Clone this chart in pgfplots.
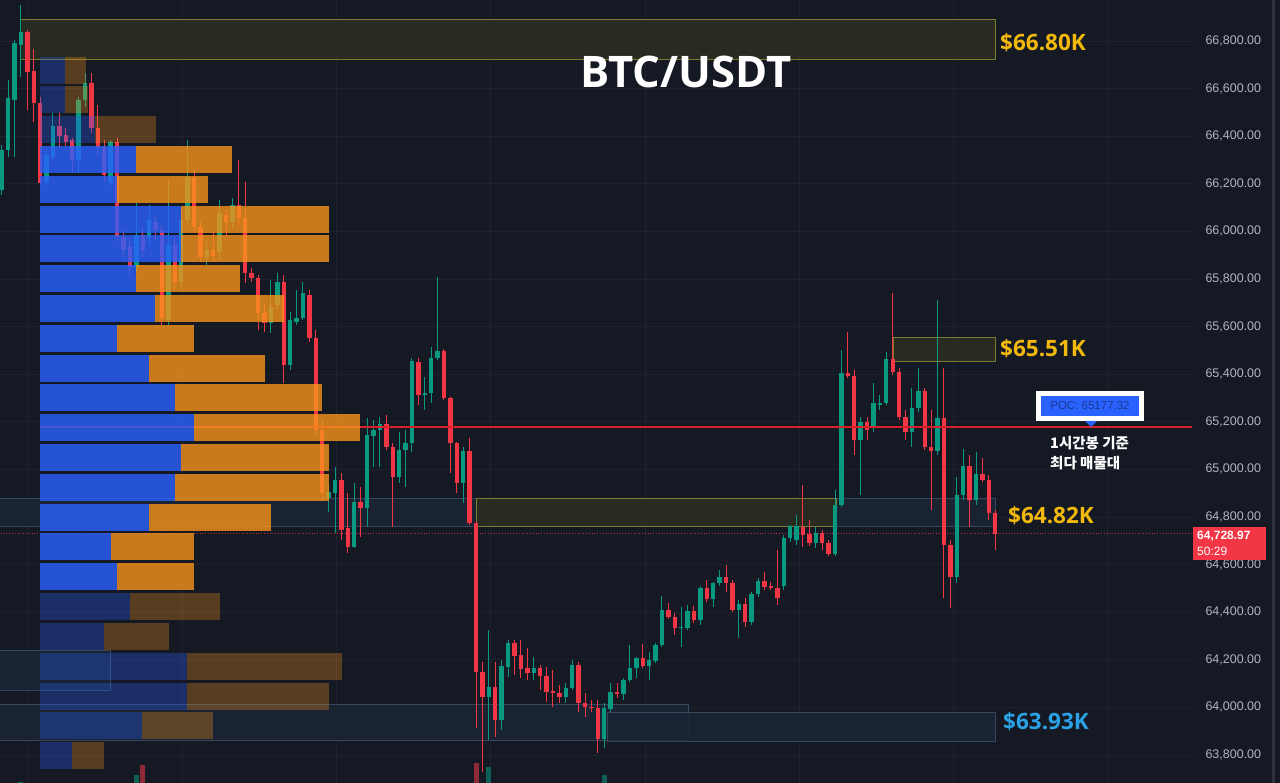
\documentclass[border=0pt]{standalone}
\usepackage{pgfplots}
\usepackage{pgfplotstable}
\pgfplotsset{compat=1.18}
\usepackage{fontspec}
\setmainfont{Open Sans}
\newfontfamily\tickfont{Liberation Sans}
\newfontfamily\krfont{Noto Sans CJK KR}
\definecolor{bgc}{HTML}{151924}
\definecolor{gridc}{HTML}{1E222D}
\definecolor{cgreen}{HTML}{089981}
\definecolor{cred}{HTML}{F23645}
\definecolor{pblue}{HTML}{2962FF}
\definecolor{porange}{HTML}{F7931A}
\definecolor{gold}{HTML}{F2B90C}
\definecolor{lblue}{HTML}{2BA1E6}
\definecolor{tickc}{HTML}{B2B5BE}
\definecolor{zyfill}{HTML}{2B2D22}
\definecolor{zyline}{HTML}{7E7A2E}
\definecolor{zbfill}{HTML}{1C2535}
\definecolor{zbline}{HTML}{36465F}
\definecolor{pocred}{HTML}{D8202A}
\definecolor{poctext}{HTML}{1C3A8C}
\definecolor{stripc}{HTML}{2E323C}

\pgfplotstableread{
i o h l c
0 66174 66363 66153 66342
1 66342 66636 66313 66560
2 66552 66804 66313 66791
3 66783 66951 66649 66838
7 66208 66342 66195 66321
8 66313 66497 66300 66443
12 66300 66565 66245 66552
13 66552 66665 66523 66623
17 66208 66384 66191 66376
21 65851 66119 65825 65985
23 65972 66111 65943 66048
26 65628 66216 65607 65943
28 65788 66090 65754 66048
29 66048 66384 66027 66229
32 65893 65964 65859 65922
34 65914 66132 65880 66077
36 66040 66140 66014 66111
42 65615 65796 65573 65683
43 65691 65825 65670 65788
45 65439 65662 65418 65628
46 65620 65754 65607 65636
47 65636 65788 65628 65741
51 64880 64935 64822 64906
52 64901 65011 64733 64956
55 64675 64943 64670 64864
57 64838 65216 64759 65145
58 65141 65208 65011 65166
59 65166 65221 65011 65191
62 64969 65158 64943 65082
63 65082 65166 64927 65111
64 65111 65468 65074 65456
66 65313 65389 65250 65321
67 65321 65515 65279 65468
68 65468 65809 65460 65498
72 64943 65095 64859 65078
76 64045 64326 63864 64087
78 63948 64200 63906 64175
79 64171 64284 64129 64271
83 64145 64213 64116 64166
88 64045 64103 64019 64082
89 64082 64200 64074 64179
94 63868 64019 63830 63998
95 63994 64103 63982 64066
97 64057 64124 64032 64116
98 64116 64263 64108 64166
99 64166 64213 64124 64208
101 64175 64234 64116 64200
102 64196 64271 64187 64263
103 64263 64469 64255 64410
106 64334 64423 64255 64339
107 64334 64431 64326 64406
109 64368 64511 64347 64502
111 64456 64528 64423 64523
112 64523 64578 64511 64549
115 64410 64452 64292 64435
117 64360 64486 64347 64477
118 64477 64544 64465 64532
122 64511 64725 64494 64712
123 64712 64767 64696 64763
124 64704 64809 64683 64763
127 64691 64759 64670 64733
130 64645 64914 64637 64851
131 64851 65502 64843 65405
134 65124 65221 64893 65200
136 65174 65363 65158 65279
137 65275 65313 65250 65279
138 65279 65494 65271 65464
142 65158 65342 65095 65258
143 65258 65426 65242 65330
146 65078 65712 65061 65216
149 64549 64969 64523 64893
150 64893 65086 64872 65015
152 64872 65074 64851 64981
}\upcandles

\pgfplotstableread{
i o h l c
4 66838 66846 66510 66670
5 66674 66766 66460 66539
6 66539 66565 66195 66203
9 66443 66497 66355 66401
10 66405 66434 66359 66376
11 66384 66392 66245 66300
14 66623 66665 66413 66434
15 66434 66531 66313 66355
16 66355 66384 66208 66237
18 66376 66392 65956 65977
19 65977 66006 65888 65922
20 65935 65977 65817 65851
22 65985 66019 65893 65922
24 66040 66069 65964 66006
25 66006 66027 65607 65636
27 65943 65985 65754 65788
30 66229 66258 65998 66019
31 66019 66040 65872 65893
33 65922 65998 65872 65897
35 66069 66090 65985 66040
37 66111 66300 66027 66056
38 66056 66208 65783 65825
39 65825 65846 65788 65804
40 65804 65817 65586 65657
41 65657 65699 65578 65615
44 65788 65817 65363 65439
48 65733 65754 65536 65552
49 65552 65586 65145 65166
50 65166 65208 64872 64901
53 64956 64985 64704 64746
54 64754 64901 64649 64675
56 64864 64927 64717 64838
60 65191 65229 65082 65095
61 65095 65111 64759 64969
65 65452 65468 65271 65313
69 65498 65506 65292 65300
70 65300 65305 64985 65111
71 65111 65116 64901 64943
73 65078 65132 64767 64775
74 64775 64784 63914 64150
75 64150 64192 63730 64045
77 64087 64192 63877 63948
80 64271 64284 64137 64217
81 64221 64284 64124 64162
82 64166 64250 64116 64145
84 64166 64179 64074 64133
85 64133 64171 64024 64066
86 64070 64158 64003 64061
87 64061 64095 64019 64045
90 64179 64192 63982 64019
91 64019 64061 63961 64003
92 64003 64032 63982 63998
93 63998 64032 63809 63868
96 64066 64103 64040 64057
100 64208 64267 64166 64175
104 64410 64439 64372 64381
105 64381 64397 64305 64334
108 64406 64427 64355 64368
110 64502 64536 64444 64456
113 64549 64599 64486 64523
114 64523 64536 64402 64410
116 64435 64460 64339 64360
119 64532 64570 64494 64507
120 64511 64528 64494 64502
121 64502 64662 64431 64460
125 64759 64935 64675 64725
126 64729 64788 64679 64691
128 64733 64746 64662 64691
129 64691 64704 64637 64645
132 65405 65578 65384 65393
133 65393 65418 65061 65124
135 65200 65221 65124 65166
139 65464 65741 65397 65410
140 65410 65426 65208 65221
141 65221 65250 65124 65158
144 65330 65342 65082 65095
145 65095 65250 64830 65078
147 65216 65426 64460 64683
148 64683 64704 64418 64549
151 65015 65061 64759 64872
153 64981 65048 64948 64956
154 64956 64977 64788 64817
155 64817 64830 64662 64728.97
}\downcandles

\pgfplotstableread{
i v
3 63687
21 63717
76 63750
94 63717
}\volup
\pgfplotstableread{
i v
22 63758
74 63766
}\voldown

\pgfplotstableread{
y b o
66302 136 232
66177 117 208
66052 181 329
65926 181 329
65801 136 240
65676 155 284
65551 117 194
65425 149 265
65300 175 322
65175 194 360
65050 181 329
64924 175 329
64799 149 271
64674 111 194
64548 117 194
}\profbright

\pgfplotstableread{
y b o
66678 65 86
66553 65 88
66427 95 156
64423 130 220
64298 104 169
64173 187 342
64047 187 329
63922 142 213
63797 72 104
}\profdim

\begin{document}
\begin{tikzpicture}
\fill[bgc] (0,0) rectangle (1280pt,783pt);
\begin{axis}[
  at={(0,0)}, anchor=south west,
  scale only axis, width=1192pt, height=783pt,
  xmin=-0.265, xmax=185.69, ymin=63682.3, ymax=66972.3,
  axis line style={draw=none},
  major tick length=0pt,
  xtick={4.04,28.13,52.15,76.18,100.36,124.38,148.41,172.43},
  xticklabels={},
  ytick={63800,64000,...,66800},
  yticklabel pos=right,
  ymajorgrids, xmajorgrids,
  grid style={gridc, line width=0.9pt},
  scaled y ticks=false,
  yticklabel style={font=\tickfont\fontsize{12.5}{13}\selectfont, text=tickc, anchor=west, xshift=10pt,
    /pgf/number format/fixed, /pgf/number format/fixed zerofill,
    /pgf/number format/precision=2, /pgf/number format/1000 sep={,},
    /pgf/number format/assume math mode=true},
  clip=true,
]
% zones
\addplot[fill=zbfill, draw=zbline, line width=0.8pt, fill opacity=0.85] coordinates {(-1,64879.9) (74.0,64879.9) (74.0,64762.3) (-1,64762.3)} -- cycle;
\addplot[fill=zbfill, draw=zbline, line width=0.8pt, fill opacity=0.85] coordinates {(130.16,64879.9) (154.96,64879.9) (154.96,64762.3) (130.16,64762.3)} -- cycle;
\addplot[fill=zyfill, draw=zyline, line width=0.8pt, fill opacity=0.9] coordinates {(74.0,64879.9) (130.16,64879.9) (130.16,64762.3) (74.0,64762.3)} -- cycle;
\addplot[fill=zyfill, draw=zyline, line width=0.8pt, fill opacity=0.9] coordinates {(2.855,66892.5) (154.96,66892.5) (154.96,66724.4) (2.855,66724.4)} -- cycle;
\addplot[fill=zyfill, draw=zyline, line width=0.8pt, fill opacity=0.9] coordinates {(139.05,65556.3) (154.96,65556.3) (154.96,65455.5) (139.05,65455.5)} -- cycle;
\addplot[fill=zbfill, draw=zbline, line width=0.8pt, fill opacity=0.85] coordinates {(-1,64014.3) (107.07,64014.3) (107.07,63863) (-1,63863)} -- cycle;
\addplot[fill=zbfill, draw=zbline, line width=0.8pt, fill opacity=0.85] coordinates {(94.43,63980.7) (154.96,63980.7) (154.96,63858.8) (94.43,63858.8)} -- cycle;
\addplot[fill=zbfill, draw=zbline, line width=0.8pt, fill opacity=0.85] coordinates {(-1,64241) (16.9,64241) (16.9,64073) (-1,64073)} -- cycle;
% current price dotted line
\addplot[cred!80!bgc, line width=0.8pt, dotted] coordinates {(-1,64728.97) (190,64728.97)};
% volume bars
\addplot[draw=none, mark=none, error bars/.cd, y dir=both, y explicit, error mark=none,
  error bar style={draw=cgreen!55!bgc, line width=5pt}]
  table[x=i, y expr={(\thisrow{v}+63600)/2}, y error expr={(\thisrow{v}-63600)/2}] {\volup};
\addplot[draw=none, mark=none, error bars/.cd, y dir=both, y explicit, error mark=none,
  error bar style={draw=cred!55!bgc, line width=5pt}]
  table[x=i, y expr={(\thisrow{v}+63600)/2}, y error expr={(\thisrow{v}-63600)/2}] {\voldown};
% candles: wicks
\addplot[draw=none, mark=none, error bars/.cd, y dir=both, y explicit, error mark=none,
  error bar style={draw=cgreen, line width=1pt}]
  table[x=i, y expr={(\thisrow{h}+\thisrow{l})/2}, y error expr={(\thisrow{h}-\thisrow{l})/2}] {\upcandles};
\addplot[draw=none, mark=none, error bars/.cd, y dir=both, y explicit, error mark=none,
  error bar style={draw=cred, line width=1pt}]
  table[x=i, y expr={(\thisrow{h}+\thisrow{l})/2}, y error expr={(\thisrow{h}-\thisrow{l})/2}] {\downcandles};
% candles: bodies
\addplot[draw=none, mark=none, error bars/.cd, y dir=both, y explicit, error mark=none,
  error bar style={draw=cgreen, line width=4.4pt}]
  table[x=i, y expr={(\thisrow{o}+\thisrow{c})/2}, y error expr={max(abs(\thisrow{c}-\thisrow{o})/2,2.5)}] {\upcandles};
\addplot[draw=none, mark=none, error bars/.cd, y dir=both, y explicit, error mark=none,
  error bar style={draw=cred, line width=4.4pt}]
  table[x=i, y expr={(\thisrow{o}+\thisrow{c})/2}, y error expr={max(abs(\thisrow{c}-\thisrow{o})/2,2.5)}] {\downcandles};
% POC line
\addplot[pocred, line width=2pt] coordinates {(5.975,65177.32) (190,65177.32)};
% volume profile
\addplot[draw=none, mark=none, error bars/.cd, x dir=both, x explicit, error mark=none,
  error bar style={draw=pblue, draw opacity=0.8, line width=27pt}]
  table[x expr={((40+\thisrow{b})/2-1.7)/6.41}, y=y, x error expr={(\thisrow{b}-40)/2/6.41}] {\profbright};
\addplot[draw=none, mark=none, error bars/.cd, x dir=both, x explicit, error mark=none,
  error bar style={draw=porange, draw opacity=0.8, line width=27pt}]
  table[x expr={((\thisrow{b}+\thisrow{o})/2-1.7)/6.41}, y=y, x error expr={(\thisrow{o}-\thisrow{b})/2/6.41}] {\profbright};
\addplot[draw=none, mark=none, error bars/.cd, x dir=both, x explicit, error mark=none,
  error bar style={draw=pblue, draw opacity=0.3, line width=27pt}]
  table[x expr={((40+\thisrow{b})/2-1.7)/6.41}, y=y, x error expr={(\thisrow{b}-40)/2/6.41}] {\profdim};
\addplot[draw=none, mark=none, error bars/.cd, x dir=both, x explicit, error mark=none,
  error bar style={draw=porange, draw opacity=0.3, line width=27pt}]
  table[x expr={((\thisrow{b}+\thisrow{o})/2-1.7)/6.41}, y=y, x error expr={(\thisrow{o}-\thisrow{b})/2/6.41}] {\profdim};
\end{axis}
% right edge strip
\fill[stripc] (1272pt,0) rectangle (1275pt,783pt);
% title
\node[anchor=base, inner sep=0, text=white, font=\bfseries\fontsize{43.5}{44}\selectfont] at (686pt,695pt) {BTC/USDT};
% level labels
\node[anchor=base west, inner sep=0, text=gold, font=\bfseries\fontsize{22.5}{23}\selectfont] at (1000pt,732pt) {\$66.80K};
\node[anchor=base west, inner sep=0, text=gold, font=\bfseries\fontsize{22.5}{23}\selectfont] at (1000pt,426pt) {\$65.51K};
\node[anchor=base west, inner sep=0, text=gold, font=\bfseries\fontsize{22.5}{23}\selectfont] at (1008pt,259pt) {\$64.82K};
\node[anchor=base west, inner sep=0, text=lblue, font=\bfseries\fontsize{22.5}{23}\selectfont] at (1003pt,53pt) {\$63.93K};
% POC box
\fill[white] (1036pt,362pt) rectangle (1144pt,392pt);
\fill[pblue] (1041pt,367pt) rectangle (1139pt,387pt);
\fill[pblue] (1085pt,362pt) -- (1097pt,362pt) -- (1091pt,356pt) -- cycle;
\node[anchor=center, inner sep=0, text=poctext, font=\tickfont\fontsize{11.5}{12}\selectfont] at (1090pt,377pt) {POC: 65177.32};
% Korean note
\node[anchor=base west, inner sep=0, text=white, font=\krfont\bfseries\fontsize{14.5}{15}\selectfont] at (1050pt,334pt) {1시간봉 기준};
\node[anchor=base west, inner sep=0, text=white, font=\krfont\bfseries\fontsize{14.5}{15}\selectfont] at (1050pt,314pt) {최다 매물대};
% current price label
\fill[cred] (1193pt,223pt) rectangle (1266pt,256pt);
\node[anchor=west, inner sep=0, text=white, font=\tickfont\bfseries\fontsize{12}{12}\selectfont] at (1197pt,247pt) {64,728.97};
\node[anchor=west, inner sep=0, text=white, font=\tickfont\fontsize{12}{12}\selectfont] at (1197pt,232pt) {50:29};
\pgfresetboundingbox
\useasboundingbox (0,0) rectangle (1280pt,783pt);
\end{tikzpicture}
\end{document}
